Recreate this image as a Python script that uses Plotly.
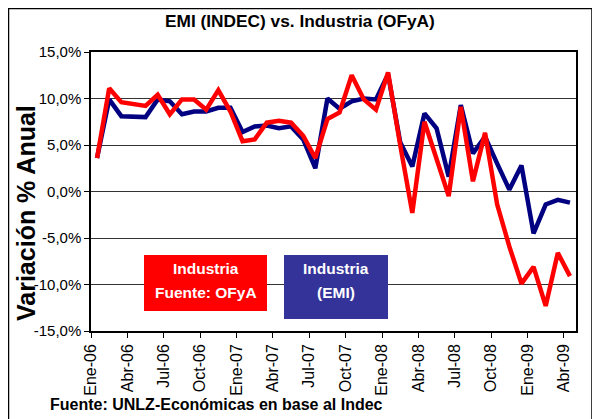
import plotly.graph_objects as go

months = ["Ene","Feb","Mar","Abr","May","Jun","Jul","Ago","Sep","Oct","Nov","Dic"]
periods = [f"{m}-{y:02d}" for y in (6, 7, 8, 9) for m in months][:40]

emi = [3.6, 9.9, 8.1, 8.0, 8.0, 9.9, 9.7, 8.3, 8.6, 8.6, 9.0, 9.0,
       6.4, 7.0, 7.1, 6.8, 7.0, 5.6, 2.5, 10.0, 8.9, 9.7, 10.0, 9.9,
       12.6, 5.3, 2.7, 8.4, 6.8, 1.6, 9.3, 4.1, 5.9, 3.0, 0.2, 2.8,
       -4.5, -1.4, -0.9, -1.2]
ofya = [3.6, 11.1, 9.6, 9.4, 9.2, 10.4, 8.3, 9.9, 9.9, 8.8, 10.9, 8.6,
        5.4, 5.6, 7.4, 7.6, 7.4, 6.0, 3.6, 7.8, 8.5, 12.5, 9.9, 8.8,
        12.8, 5.0, -2.3, 7.5, 3.4, -0.5, 9.1, 1.1, 6.3, -1.4, -5.9, -9.9,
        -8.1, -12.3, -6.6, -9.1]

tick_labels = ["Ene-06","Abr-06","Jul-06","Oct-06","Ene-07","Abr-07","Jul-07",
               "Oct-07","Ene-08","Abr-08","Jul-08","Oct-08","Ene-09","Abr-09"]
y_ticks = [15, 10, 5, 0, -5, -10, -15]
y_tick_labels = ["15,0%", "10,0%", "5,0%", "0,0%", "-5,0%", "-10,0%", "-15,0%"]

x = list(range(len(periods)))
tick_pos = [periods.index(t) - 0.5 for t in tick_labels]

FONT = "Arial, Liberation Sans, sans-serif"

fig = go.Figure()
fig.add_trace(go.Scatter(x=x, y=emi, mode="lines", name="Industria (EMI)",
                         line=dict(color="#000080", width=4.5)))
fig.add_trace(go.Scatter(x=x, y=ofya, mode="lines", name="Industria Fuente: OFyA",
                         line=dict(color="#FF0000", width=4.5)))

# page offset (browser body margin) and plot area in page pixels
OFF = 8
FW, FH = 600 - OFF, 419 - OFF
L, T, W, H = 91, 52, 485, 279

def px(xp):
    return (xp - L) / W

def py(yp):
    return (T + H - yp) / H

shapes = [
    dict(type="rect", xref="paper", yref="paper", x0=px(8.5), x1=px(592), y0=py(430), y1=py(8.5),
         line=dict(color="black", width=1.5), fillcolor="rgba(0,0,0,0)", layer="below"),
    dict(type="rect", xref="paper", yref="paper", x0=px(144), x1=px(267), y0=py(311), y1=py(255),
         line=dict(width=0), fillcolor="#FF0000"),
    dict(type="rect", xref="paper", yref="paper", x0=px(284), x1=px(388), y0=py(319), y1=py(255),
         line=dict(width=0), fillcolor="#333399"),
]

def ann(text, xp, yp, size, color="black", angle=0, xanchor="center"):
    return dict(text=text, x=px(xp), y=py(yp), xref="paper", yref="paper",
                xanchor=xanchor, yanchor="middle", textangle=angle, showarrow=False,
                font=dict(family=FONT, size=size, color=color))

annotations = [
    ann("<b>Industria</b>", 205.5, 268, 15.5, "white"),
    ann("<b>Fuente: OFyA</b>", 205.5, 292, 15.5, "white"),
    ann("<b>Industria</b>", 336, 268, 15.5, "white"),
    ann("<b>(EMI)</b>", 336, 292, 15.5, "white"),
    ann("<b>Variación % Anual</b>", 26, 213, 25, angle=-90),
    ann("<b>Fuente: UNLZ-Económicas en base al Indec</b>", 48, 404, 16, xanchor="left"),
    ann("<b>EMI (INDEC) vs. Industria (OFyA)</b>", 300, 21, 17.3),
]

fig.update_layout(
    width=FW, height=FH,
    margin=dict(l=L - OFF, r=FW - (L - OFF) - W, t=T - OFF, b=FH - (T - OFF) - H,
                autoexpand=False),
    paper_bgcolor="white", plot_bgcolor="white",
    showlegend=False,
    shapes=shapes, annotations=annotations,
    font=dict(family=FONT, color="black"),
    xaxis=dict(range=[-0.5, len(periods) - 0.5], tickmode="array", tickvals=tick_pos,
               ticktext=tick_labels, tickangle=-90, ticks="outside", ticklen=5,
               tickcolor="black", showgrid=False, zeroline=False, showline=True,
               linecolor="black", linewidth=1.5, mirror=True, automargin=False,
               tickfont=dict(family=FONT, size=16, color="black")),
    yaxis=dict(range=[-15, 15], tickmode="array", tickvals=y_ticks, ticktext=y_tick_labels,
               ticks="outside", ticklen=5, tickcolor="black", showgrid=True,
               gridcolor="#333333", gridwidth=1, zeroline=False, showline=True,
               linecolor="black", linewidth=1.5, mirror=True, automargin=False,
               tickfont=dict(family=FONT, size=15, color="black")),
)

fig.write_html("out.html")
